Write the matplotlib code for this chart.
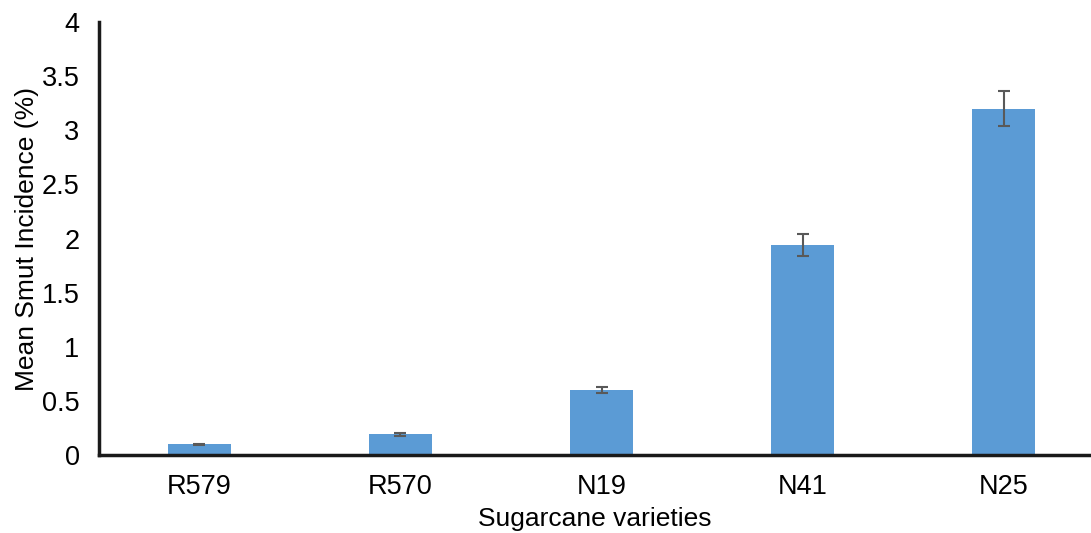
import matplotlib.pyplot as plt
import numpy as np

plt.rcParams['font.family'] = ['Liberation Sans', 'DejaVu Sans']

varieties = ['R579', 'R570', 'N19', 'N41', 'N25']
incidence = [0.10, 0.19, 0.60, 1.94, 3.20]
errors = [0.005, 0.01, 0.03, 0.10, 0.16]

fig = plt.figure(figsize=(10.91, 5.33), dpi=100)
ax = fig.add_axes([0.0907, 0.1463, 0.9093, 0.8124])

x = np.arange(len(varieties))
ax.bar(x, incidence, width=0.31, color='#5B9BD5', zorder=2)
ax.errorbar(x, incidence, yerr=errors, fmt='none', ecolor='#595959',
            elinewidth=1.5, capsize=4.3, capthick=1.5, zorder=3)

ax.set_xlim(-0.5, 4.435)
ax.set_ylim(0, 4)
ax.set_yticks(np.arange(0, 4.01, 0.5))
ax.set_yticklabels(['0', '0.5', '1', '1.5', '2', '2.5', '3', '3.5', '4'])
ax.set_xticks(x)
ax.set_xticklabels(varieties)
ax.tick_params(axis='both', length=0, labelsize=19.5, colors='#000000')
ax.tick_params(axis='x', pad=14)
ax.tick_params(axis='y', pad=14)

for s in ['top', 'right']:
    ax.spines[s].set_visible(False)
for s in ['left', 'bottom']:
    ax.spines[s].set_linewidth(2.5)
    ax.spines[s].set_color('#1a1a1a')

ax.set_xlabel('Sugarcane varieties', fontsize=19, labelpad=5)
ax.set_ylabel('Mean Smut Incidence (%)', fontsize=19, labelpad=2)

fig.savefig('out.png', dpi=100)
